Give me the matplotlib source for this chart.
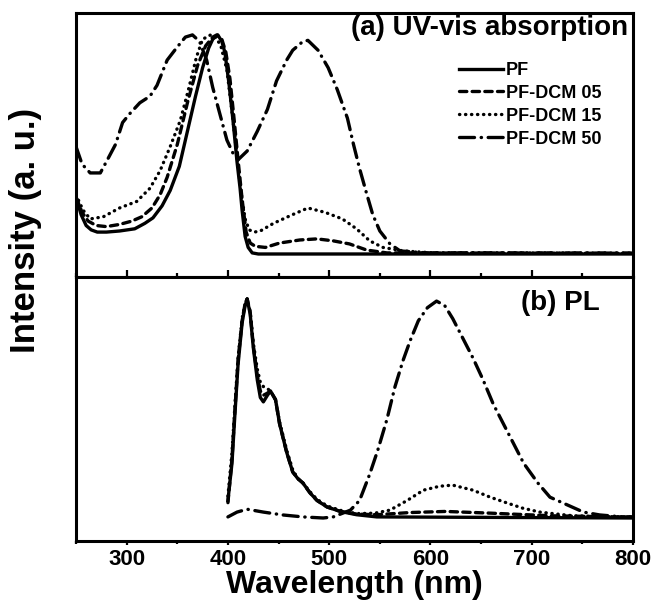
import matplotlib
matplotlib.use("Agg")
from matplotlib import pyplot as plt
from matplotlib.ticker import MultipleLocator

plt.rcParams['font.family'] = ['Liberation Sans', 'DejaVu Sans']
plt.rcParams['font.weight'] = 'bold'

labels = ['PF', 'PF-DCM 05', 'PF-DCM 15', 'PF-DCM 50']

# (a) UV-vis absorption, normalised
abs_pf_wl = [250, 255, 260, 265, 271, 280, 293, 308, 318, 326, 335, 343, 352, 360, 368, 375,
             381, 385, 390, 394, 397, 401, 405, 409, 412, 414, 417, 420, 424, 430, 800]
abs_pf = [0.26, 0.18, 0.13, 0.11, 0.10, 0.10, 0.105, 0.115, 0.14, 0.165, 0.22, 0.29, 0.40, 0.56,
          0.72, 0.85, 0.94, 0.98, 1.0, 0.97, 0.92, 0.78, 0.61, 0.42, 0.30, 0.20, 0.08, 0.03, 0.005,
          0.0, 0.0]

abs_05_wl = [250, 256, 262, 270, 280, 293, 305, 315, 325, 333, 340, 350, 360, 370, 378, 385, 389,
             394, 398, 402, 406, 410, 414, 418, 422, 427, 437, 451, 471, 488, 504, 520, 537, 557, 800]
abs_05 = [0.26, 0.19, 0.15, 0.13, 0.125, 0.135, 0.15, 0.17, 0.21, 0.27, 0.35, 0.50, 0.69, 0.86,
          0.95, 0.99, 1.0, 0.98, 0.92, 0.80, 0.62, 0.43, 0.25, 0.10, 0.05, 0.035, 0.03, 0.05, 0.064,
          0.069, 0.06, 0.046, 0.018, 0.005, 0.003]

abs_15_wl = [250, 257, 264, 277, 293, 310, 323, 333, 343, 353, 361, 369, 375, 383, 388, 393, 399,
             404, 409, 413, 417, 421, 426, 432, 445, 464, 479, 496, 513, 527, 540, 553, 573, 600, 800]
abs_15 = [0.27, 0.20, 0.16, 0.17, 0.21, 0.24, 0.30, 0.38, 0.49, 0.61, 0.75, 0.90, 0.98, 1.0, 0.99,
          0.95, 0.84, 0.65, 0.45, 0.28, 0.16, 0.11, 0.10, 0.105, 0.14, 0.18, 0.21, 0.19, 0.16, 0.115,
          0.06, 0.03, 0.014, 0.006, 0.004]

abs_50_wl = [250, 256, 264, 274, 281, 289, 296, 303, 313, 323, 330, 340, 350, 358, 365, 372, 379,
             385, 392, 399, 405, 410, 419, 429, 439, 448, 458, 464, 474, 479, 489, 499, 508, 518,
             524, 530, 537, 543, 550, 560, 570, 597, 800]
abs_50 = [0.49, 0.41, 0.37, 0.37, 0.43, 0.50, 0.60, 0.64, 0.69, 0.72, 0.77, 0.885, 0.945, 0.99,
          1.0, 0.97, 0.885, 0.76, 0.64, 0.52, 0.46, 0.43, 0.47, 0.56, 0.66, 0.79, 0.885, 0.93, 0.97,
          0.975, 0.93, 0.85, 0.75, 0.62, 0.50, 0.39, 0.275, 0.18, 0.105, 0.046, 0.014, 0.005, 0.004]

# (b) PL, normalised
pl_pf_wl = [400, 404, 407, 410, 414, 417, 419, 422, 425, 429, 432, 435, 439, 442, 447, 451, 458,
            464, 469, 474, 481, 488, 498, 511, 527, 547, 800]
pl_pf = [0.08, 0.25, 0.48, 0.70, 0.89, 0.97, 1.0, 0.93, 0.78, 0.63, 0.55, 0.53, 0.56, 0.58, 0.54,
         0.43, 0.30, 0.21, 0.18, 0.16, 0.115, 0.08, 0.05, 0.03, 0.015, 0.005, 0.0]

pl_05_wl = [400, 404, 407, 410, 414, 417, 419, 422, 425, 429, 432, 435, 439, 442, 447, 451, 458,
            464, 469, 474, 481, 488, 498, 511, 527, 547, 580, 615, 660, 720, 800]
pl_05 = [0.07, 0.27, 0.50, 0.72, 0.90, 0.98, 1.0, 0.94, 0.79, 0.65, 0.58, 0.56, 0.57, 0.58, 0.54,
         0.43, 0.30, 0.21, 0.18, 0.16, 0.115, 0.08, 0.05, 0.03, 0.018, 0.015, 0.025, 0.03, 0.022,
         0.01, 0.004]

pl_15_wl = [400, 404, 407, 410, 414, 417, 419, 422, 425, 429, 432, 435, 439, 442, 447, 451, 458,
            464, 469, 474, 481, 488, 498, 511, 527, 545, 560, 577, 593, 609, 622, 642, 659, 676,
            691, 708, 725, 741, 790, 800]
pl_15 = [0.10, 0.30, 0.52, 0.73, 0.91, 0.98, 1.0, 0.94, 0.80, 0.68, 0.62, 0.60, 0.59, 0.58, 0.54,
         0.44, 0.31, 0.22, 0.18, 0.16, 0.12, 0.085, 0.055, 0.035, 0.02, 0.022, 0.036, 0.08, 0.127,
         0.145, 0.15, 0.127, 0.095, 0.068, 0.045, 0.027, 0.018, 0.01, 0.005, 0.005]

pl_50_wl = [400, 409, 419, 435, 454, 474, 494, 504, 521, 530, 540, 548, 557, 565, 573, 580, 588,
            597, 606, 614, 622, 632, 642, 652, 662, 672, 682, 692, 706, 718, 735, 751, 767, 790, 800]
pl_50 = [0.005, 0.027, 0.04, 0.027, 0.014, 0.005, 0.0, 0.005, 0.036, 0.08, 0.20, 0.31, 0.45, 0.60,
         0.72, 0.81, 0.90, 0.96, 0.99, 0.97, 0.91, 0.82, 0.73, 0.63, 0.52, 0.43, 0.34, 0.25, 0.16,
         0.095, 0.06, 0.027, 0.014, 0.005, 0.005]

styles = [dict(linestyle='-'),
          dict(linestyle=(0, (2.2, 1.6)), dash_capstyle='round'),
          dict(linestyle=(0, (0.1, 1.7)), dash_capstyle='round'),
          dict(linestyle=(0, (4.5, 2.0, 0.1, 2.0)), dash_capstyle='round')]

fig, (ax1, ax2) = plt.subplots(2, 1, figsize=(6.53, 6.10), dpi=100, sharex=True)
fig.subplots_adjust(left=0.1164, right=0.9694, top=0.9787, bottom=0.1131, hspace=0)

abs_data = [(abs_pf_wl, abs_pf), (abs_05_wl, abs_05), (abs_15_wl, abs_15), (abs_50_wl, abs_50)]
pl_data = [(pl_pf_wl, pl_pf), (pl_05_wl, pl_05), (pl_15_wl, pl_15), (pl_50_wl, pl_50)]

for (x, y), st, lab in zip(abs_data, styles, labels):
    ax1.plot(x, y, color='black', lw=2.4, label=lab, **st)
for (x, y), st in zip(pl_data, styles):
    ax2.plot(x, y, color='black', lw=2.4, **st)

for ax in (ax1, ax2):
    ax.set_xlim(250, 800)
    ax.set_ylim(-0.105, 1.10)
    ax.set_yticks([])
    ax.xaxis.set_major_locator(MultipleLocator(100))
    ax.xaxis.set_minor_locator(MultipleLocator(50))
    for sp in ax.spines.values():
        sp.set_linewidth(2.2)

ax1.tick_params(axis='x', which='major', direction='in', length=5, width=1.6, labelbottom=False)
ax1.tick_params(axis='x', which='minor', direction='in', length=3, width=1.6)
ax2.tick_params(axis='x', which='major', direction='out', length=3, width=1.6, labelsize=16, pad=3)
ax2.tick_params(axis='x', which='minor', direction='out', length=2.5, width=1.6)
for t in ax2.get_xticklabels():
    t.set_fontweight('bold')

ax2.set_xlabel('Wavelength (nm)', fontsize=23, fontweight='bold', labelpad=0)
fig.text(0.039, 0.623, 'Intensity (a. u.)', rotation=90, fontsize=25, fontweight='bold',
         ha='center', va='center')

ax1.text(0.991, 0.992, '(a) UV-vis absorption', transform=ax1.transAxes, fontsize=20,
         fontweight='bold', ha='right', va='top')
ax2.text(0.941, 0.95, '(b) PL', transform=ax2.transAxes, fontsize=20,
         fontweight='bold', ha='right', va='top')

leg = ax1.legend(loc='upper left', bbox_to_anchor=(0.688, 0.815), frameon=False,
                 prop={'size': 13, 'weight': 'bold'}, handlelength=2.4, handletextpad=0.2,
                 labelspacing=0.33, borderpad=0, borderaxespad=0)

fig.savefig('out.png', dpi=100)
